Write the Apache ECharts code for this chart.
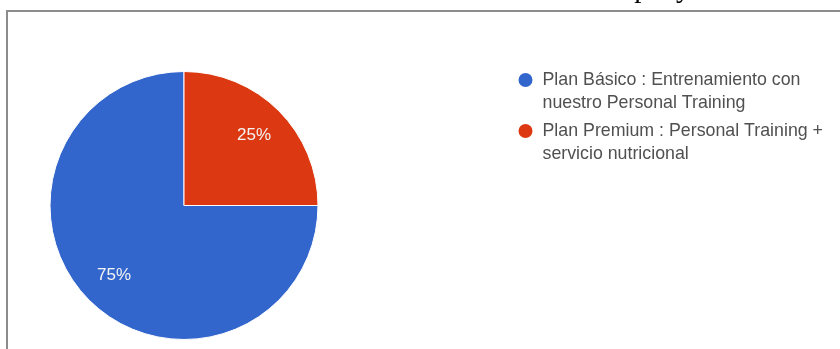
<!DOCTYPE html>
<html>
<head>
<meta charset="utf-8">
<script src="https://cdn.jsdelivr.net/npm/echarts@6/dist/echarts.min.js"></script>
<style>
  html, body { margin: 0; padding: 0; background: #fff; }
  #chart { width: 840px; height: 349px; }
</style>
</head>
<body>
<div id="chart"></div>
<script>
// Plan names, shares (%) and slice colours
const planNames = [
  'Plan Básico : Entrenamiento con nuestro Personal Training',
  'Plan Premium : Personal Training + servicio nutricional'
];
const planShares = [75, 25];
const planColors = ['#3366cc', '#dc3912'];
const titleText = 'Gráfico 4. Estimaciones de Personal Company';

const LINE_H = 23.5;

const pieData = planNames.map((name, i) => ({
  name: name,
  value: planShares[i],
  itemStyle: { color: planColors[i] }
}));

const chart = echarts.init(document.getElementById('chart'), null, { renderer: 'canvas' });

chart.setOption({
  animation: false,
  backgroundColor: '#ffffff',
  title: {
    text: titleText,
    left: 'center',
    top: -25,
    padding: 0,
    textStyle: {
      fontFamily: 'Liberation Serif',
      fontWeight: 'normal',
      fontSize: 29,
      color: '#000000'
    }
  },
  graphic: [
    {
      type: 'polyline',
      silent: true,
      shape: { points: [[7, 349], [7, 11], [840, 11]] },
      style: { stroke: '#8c8c8c', lineWidth: 2, fill: null }
    }
  ],
  legend: {
    orient: 'vertical',
    left: 516.5,
    top: 80 - 1.5 * LINE_H,
    padding: 0,
    itemGap: 51 - 3 * LINE_H,
    itemWidth: 16,
    itemHeight: 16,
    icon: 'circle',
    data: planNames,
    // a leading blank line keeps the marker level with the first text line
    formatter: name => '\n' + name,
    textStyle: {
      fontFamily: 'Liberation Sans',
      fontSize: 17.8,
      color: '#505050',
      lineHeight: LINE_H,
      width: 295,
      overflow: 'break',
      padding: [0, 0, 0, 4]
    }
  },
  series: [
    {
      type: 'pie',
      center: [184, 205.5],
      radius: [0, 134],
      startAngle: 0,
      clockwise: true,
      silent: true,
      label: { show: false },
      labelLine: { show: false },
      itemStyle: { borderColor: '#ffffff', borderWidth: 1 },
      data: pieData
    },
    {
      // transparent ring used to place the percentage labels
      type: 'pie',
      center: [184, 205.5],
      radius: [58, 134],
      startAngle: 0,
      clockwise: true,
      silent: true,
      legendHoverLink: false,
      itemStyle: { color: 'rgba(0,0,0,0)', borderWidth: 0 },
      label: {
        show: true,
        position: 'inside',
        formatter: '{c}%',
        fontFamily: 'Liberation Sans',
        fontSize: 17,
        color: '#f4f4f4'
      },
      labelLine: { show: false },
      data: planNames.map((name, i) => ({ name: name, value: planShares[i] }))
    }
  ]
});
</script>
</body>
</html>
